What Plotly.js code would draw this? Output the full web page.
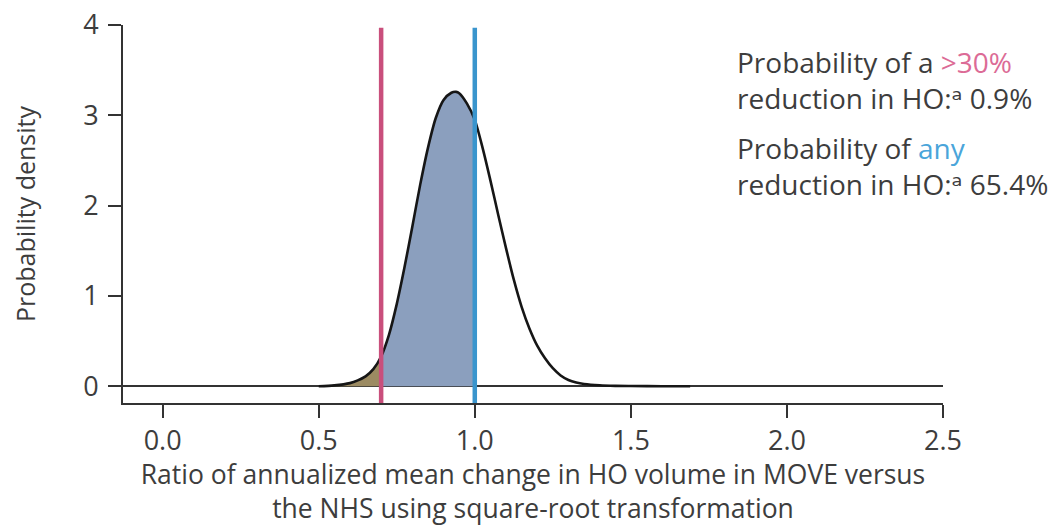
<!DOCTYPE html>
<html>
<head>
<meta charset="utf-8">
<script src="https://cdn.plot.ly/plotly-3.0.1.min.js"></script>
<style>
html,body{margin:0;padding:0;background:#fff;}
#chart{width:1049px;height:526px;}
</style>
</head>
<body>
<div id="chart"></div>
<script>
// Ratio values (x) and probability density (y)
const ratio = [0.50,0.55,0.60,0.625,0.65,0.675,0.70,0.725,0.75,0.775,0.80,0.825,0.85,0.875,0.90,0.925,0.94,0.95,0.975,1.00,1.025,1.05,1.075,1.10,1.125,1.15,1.175,1.20,1.225,1.25,1.275,1.30,1.325,1.35,1.40,1.45,1.50,1.60,1.69];
const density = [0.000,0.010,0.035,0.065,0.11,0.19,0.33,0.57,0.91,1.32,1.77,2.23,2.64,2.97,3.17,3.25,3.26,3.245,3.13,2.95,2.64,2.28,1.90,1.53,1.18,0.88,0.64,0.45,0.31,0.20,0.12,0.07,0.042,0.026,0.011,0.005,0.003,0.001,0.0];

// Thresholds: >30% reduction (ratio 0.7) and any reduction (ratio 1.0)
const thresholds = [0.7, 1.0];
const thresholdColors = ['#c94f7c', '#3a95cd'];

const xTickVals = [0, 0.5, 1.0, 1.5, 2.0, 2.5];
const xTickText = ['0.0', '0.5', '1.0', '1.5', '2.0', '2.5'];
const yTickVals = [0, 1, 2, 3, 4];

const annotationTexts = [
  'Probability of a <span style="color:#dc6b96">&gt;30%</span><br>reduction in HO:ᵃ 0.9%',
  'Probability of <span style="color:#4aa5da">any</span><br>reduction in HO:ᵃ 65.4%'
];

function subset(lo, hi) {
  const xs = [], ys = [];
  for (let i = 0; i < ratio.length; i++) {
    if (ratio[i] >= lo - 1e-9 && ratio[i] <= hi + 1e-9) { xs.push(ratio[i]); ys.push(density[i]); }
  }
  return {xs, ys};
}

const tail = subset(-Infinity, thresholds[0]);
const mid = subset(thresholds[0], thresholds[1]);

const FONT = '"Open Sans", "DejaVu Sans", "Noto Sans", sans-serif';
const TXT = '#3d3d3d';

const traces = [
  {x: tail.xs, y: tail.ys, type: 'scatter', mode: 'lines', fill: 'tozeroy',
   fillcolor: '#9c8b62', line: {width: 0, shape: 'spline', smoothing: 0.8}, hoverinfo: 'skip', showlegend: false},
  {x: mid.xs, y: mid.ys, type: 'scatter', mode: 'lines', fill: 'tozeroy',
   fillcolor: '#8b9fbe', line: {width: 0, shape: 'spline', smoothing: 0.8}, hoverinfo: 'skip', showlegend: false},
  {x: ratio, y: density, type: 'scatter', mode: 'lines',
   line: {color: '#161616', width: 2.6, shape: 'spline', smoothing: 0.8}, showlegend: false}
];

const shapes = thresholds.map((t, i) => ({
  type: 'line', xref: 'x', yref: 'paper', x0: t, x1: t, y0: 0, y1: 0.993,
  line: {color: thresholdColors[i], width: 4.5}, layer: 'above'
}));

const annY = [0.854, 0.628];
const annotations = annotationTexts.map((t, i) => ({
  text: t, xref: 'paper', yref: 'paper', x: 0.7463, y: annY[i],
  xanchor: 'left', yanchor: 'middle', align: 'left', showarrow: false,
  font: {family: FONT, size: 28, color: TXT}
}));

const layout = {
  width: 1049, height: 526,
  margin: {l: 123, r: 106, t: 25, b: 123, pad: 0},
  paper_bgcolor: '#ffffff', plot_bgcolor: '#ffffff',
  font: {family: FONT, color: TXT},
  xaxis: {
    range: [-0.127, 2.5], tickvals: xTickVals, ticktext: xTickText,
    showgrid: false, zeroline: false, showline: true, linecolor: '#333', linewidth: 2,
    ticks: 'outside', ticklen: 13, tickwidth: 2, tickcolor: '#333',
    ticklabelstandoff: 0,
    tickfont: {family: FONT, size: 27, color: TXT},
    title: {text: 'Ratio of annualized mean change in HO volume in MOVE versus<br>the NHS using square-root transformation',
            font: {family: FONT, size: 26.5, color: TXT}, standoff: 14}
  },
  yaxis: {
    range: [-0.185, 4], tickvals: yTickVals,
    showgrid: false, zeroline: true, zerolinecolor: '#333', zerolinewidth: 2,
    showline: true, linecolor: '#333', linewidth: 2,
    ticks: 'outside', ticklen: 13, tickwidth: 2, tickcolor: '#333',
    ticklabelstandoff: 4,
    tickfont: {family: FONT, size: 27, color: TXT},
    title: {text: 'Probability density', font: {family: FONT, size: 25, color: TXT}, standoff: 40}
  },
  shapes: shapes,
  annotations: annotations
};

Plotly.newPlot('chart', traces, layout, {displayModeBar: false, staticPlot: true});
</script>
</body>
</html>
